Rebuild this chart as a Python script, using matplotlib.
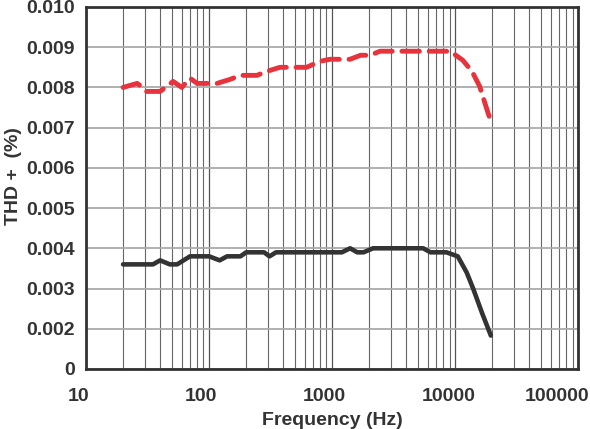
import matplotlib
matplotlib.use("Agg")
import matplotlib.pyplot as plt
import matplotlib.transforms as mtransforms
from matplotlib.ticker import FixedLocator, NullFormatter

plt.rcParams['font.family'] = ['Liberation Sans', 'DejaVu Sans']

# Red dashed series
red_f = [20, 26, 29, 31, 40, 51, 60, 70, 80, 100, 116, 148, 180, 245, 295, 377,
         460, 620, 800, 960, 1400, 1700, 2040, 2450, 8000, 9100, 11500, 13700,
         15800, 18000, 19500]
red_v = [0.0080, 0.0081, 0.0080, 0.0079, 0.0079, 0.00815, 0.0080, 0.00823, 0.0081,
         0.0081, 0.0081, 0.0082, 0.0083, 0.0083, 0.0084, 0.0085,
         0.0085, 0.0085, 0.00865, 0.0087, 0.0087, 0.0088, 0.0088, 0.0089, 0.0089,
         0.0089, 0.00868, 0.0084, 0.00803, 0.00748, 0.00715]

# Black solid series
blk_f = [20, 35, 40, 48, 55, 70, 100, 122, 140, 180, 200, 280, 310, 350, 1200,
         1400, 1600, 1800, 2150, 5500, 6300, 8500, 10500, 12400, 14000, 16500, 19500]
blk_v = [0.0036, 0.0036, 0.0037, 0.0036, 0.0036, 0.0038, 0.0038, 0.0037, 0.0038,
         0.0038, 0.0039, 0.0039, 0.0038, 0.0039, 0.0039,
         0.0040, 0.0039, 0.0039, 0.0040, 0.0040, 0.0039, 0.0039, 0.0038, 0.0034,
         0.0030, 0.0024, 0.00183]

y_ticks = [0.001, 0.002, 0.003, 0.004, 0.005, 0.006, 0.007, 0.008, 0.009, 0.010]
y_labels = ["0", "0.002", "0.003", "0.004", "0.005", "0.006", "0.007", "0.008", "0.009", "0.010"]
x_ticks = [10, 100, 1000, 10000, 100000]
x_labels = ["10", "100", "1000", "10000", "100000"]

fig = plt.figure(figsize=(5.9, 4.29), dpi=100)
ax = fig.add_axes([0.1458, 0.140, 0.8342, 0.8437])

ax.set_xscale('log')
ax.set_xlim(10, 100000)
ax.set_ylim(0.001, 0.010)

minor = [m * 10**e for e in range(1, 5) for m in range(2, 10)]
ax.xaxis.set_major_locator(FixedLocator(x_ticks))
ax.xaxis.set_minor_locator(FixedLocator(minor))
ax.xaxis.set_minor_formatter(NullFormatter())
ax.set_xticks(x_ticks)
ax.set_xticklabels(x_labels)
ax.set_yticks(y_ticks)
ax.set_yticklabels(y_labels)

ax.grid(True, which='major', axis='x', color='#555555', linewidth=0.9)
ax.grid(True, which='minor', axis='x', color='#666666', linewidth=0.8)
ax.grid(True, which='major', axis='y', color='#aaaaaa', linewidth=1.3)
ax.set_axisbelow(True)

ax.plot(blk_f, blk_v, color='#333333', linewidth=3.3, solid_capstyle='round',
        solid_joinstyle='round', zorder=3)
ax.plot(red_f, red_v, color='#e8323c', linewidth=3.5, linestyle=(0, (3.6, 2.0)),
        dash_capstyle='round', zorder=3)

for s in ax.spines.values():
    s.set_color('#333333')
    s.set_linewidth(2.0)

ax.tick_params(which='both', length=0, labelsize=14, labelcolor='#333333', pad=8)
ax.tick_params(axis='x', which='major', pad=14)
for lab in ax.get_xticklabels() + ax.get_yticklabels():
    lab.set_fontweight('bold')

# shift x tick labels slightly left like the reference
shifts = [-7, -8, -8, -6, -21]
for lab, dx in zip(ax.get_xticklabels(), shifts):
    lab.set_transform(lab.get_transform() + mtransforms.ScaledTranslation(dx / 100, 0, fig.dpi_scale_trans))

ax.set_xlabel("Frequency (Hz)", fontsize=14, fontweight='bold', color='#333333', labelpad=5)
ax.set_ylabel("THD +  (%)", fontsize=14, fontweight='bold', color='#333333', labelpad=8)
ax.yaxis.set_label_coords(-0.13, 0.534)

fig.savefig("out.png", dpi=100)
